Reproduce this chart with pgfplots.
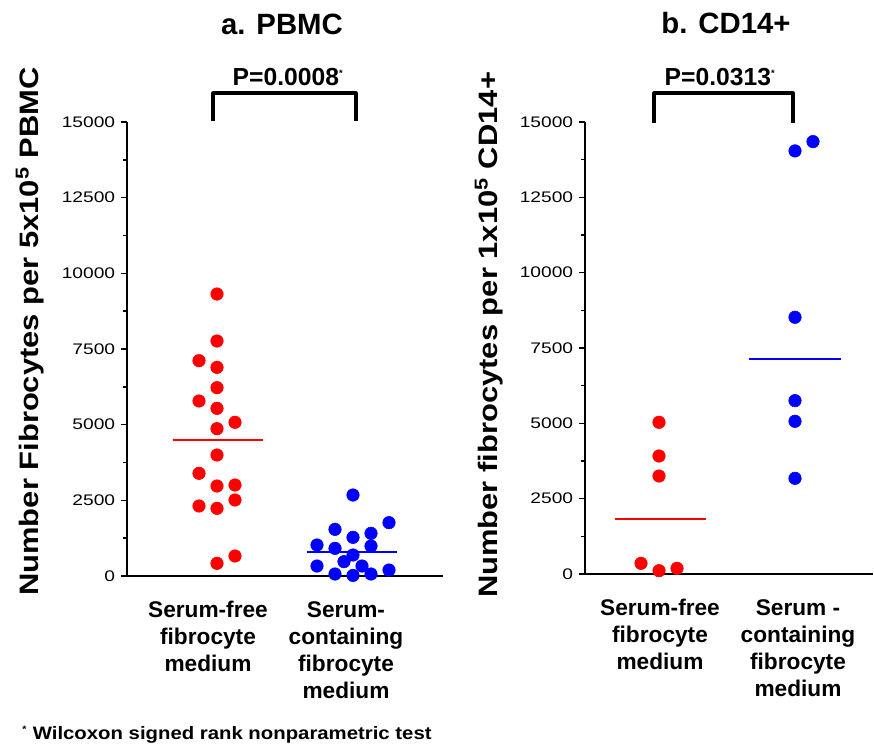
\documentclass[border=0pt]{standalone}
\usepackage{fontspec}
\setmainfont{Liberation Sans}
\usepackage{graphicx}
\usepackage{pgfplots}
\pgfplotsset{compat=1.18}
\def\px{0.75pt}
\pgfplotsset{
  panel/.style={
    scale only axis,
    axis x line=bottom, axis y line=left,
    axis line style={-, line width=1.3pt, black},
    ymin=0, ymax=15000,
    ytick={0,2500,5000,7500,10000,12500,15000},
    minor y tick num=1,
    tick align=outside,
    major tick length=4.5pt, minor tick length=3pt,
    every tick/.style={black, line width=1.1pt},
    major x tick style={draw=none},
    yticklabel style={font=\fontsize{11.5}{13}\selectfont, xscale=1.25},
    /pgf/number format/assume math mode=true,
    /pgf/number format/set thousands separator={},
    scaled y ticks=false,
    xticklabel style={align=center, font=\bfseries\fontsize{17}{20.25}\selectfont, anchor=north, yshift=-11pt},
    clip=false,
  },
  dots/.style={only marks, mark=*, mark size=4.7pt, mark options={draw=#1, fill=#1}},
  medline/.style={#1, line width=1.6pt},
}
\begin{document}
\begin{tikzpicture}
\path[use as bounding box] (0,0) rectangle (655.5pt,-561.75pt);

% ---------- a. PBMC ----------
\begin{axis}[panel,
  at={(95.25pt,-432pt)}, anchor=south west,
  width=237pt, height=340.5pt,
  xmin=0, xmax=316,
  xtick={81,219},
  xticklabels={{Serum-free\\fibrocyte\\medium},{Serum-\\containing\\fibrocyte\\medium}},
  ylabel={\fontsize{20}{24}\selectfont\bfseries\scalebox{1.16}[1]{Number Fibrocytes per 5x10\textsuperscript{5} PBMC}},
  ylabel style={at={(axis description cs:-0.307,0.5385)}, anchor=center},
]
\addplot[dots=red] coordinates {
 (90,9317) (90,7764) (72,7114) (90,6895) (90,6222) (72,5782) (90,5540)
 (108,5078) (90,4867) (90,3998) (72,3393) (90,2974) (108,3007) (108,2511)
 (72,2313) (90,2236) (108,661) (90,419)};
\addplot[medline=red] coordinates {(45.7,4493) (135.7,4493)};
\addplot[dots=blue] coordinates {
 (226,2676) (262,1762) (208,1542) (244,1410) (226,1278) (190,1024) (208,914)
 (244,991) (226,694) (217,474) (190,330) (235,330) (262,198) (208,66)
 (226,20) (244,66)};
\addplot[medline=blue] coordinates {(179.7,804) (270.3,804)};
\end{axis}

% ---------- b. CD14+ ----------
\begin{axis}[panel,
  at={(438.75pt,-430.5pt)}, anchor=south west,
  width=216pt, height=339pt,
  xmin=0, xmax=288,
  xtick={75,213},
  xticklabels={{Serum-free\\fibrocyte\\medium},{Serum -\\containing\\fibrocyte\\medium}},
  ylabel={\fontsize{20}{24}\selectfont\bfseries\scalebox{1.16}[1]{Number fibrocytes per 1x10\textsuperscript{5} CD14+}},
  ylabel style={at={(axis description cs:-0.333,0.529)}, anchor=center},
]
\addplot[dots=red] coordinates {
 (74,5035) (74,3916) (74,3252) (56,354) (74,110) (92,188)};
\addplot[medline=red] coordinates {(30,1825) (121,1825)};
\addplot[dots=blue] coordinates {
 (228,14349) (210,14040) (210,8520) (210,5752) (210,5068) (210,3176)};
\addplot[medline=blue] coordinates {(164,7146) (256,7146)};
\end{axis}

% ---------- titles and brackets ----------
\node[anchor=base, font=\bfseries\fontsize{22}{26}\selectfont] at (282*\px,-35*\px) {a. PBMC};
\node[anchor=base, font=\bfseries\fontsize{22}{26}\selectfont] at (726*\px,-34*\px) {b. CD14+};

\node[anchor=base, font=\bfseries\fontsize{18.5}{22}\selectfont, inner sep=0pt] at (288*\px,-85*\px) {P=0.0008\textsuperscript{\scriptsize *}};
\node[anchor=base, font=\bfseries\fontsize{18.5}{22}\selectfont, inner sep=0pt] at (720*\px,-85*\px) {P=0.0313\textsuperscript{\scriptsize *}};

\draw[line width=2.3pt, line join=round] (213*\px,-121*\px) -- (213*\px,-93*\px) -- (356*\px,-93*\px) -- (356*\px,-121*\px);
\draw[line width=2.3pt, line join=round] (654*\px,-123*\px) -- (654*\px,-93*\px) -- (793*\px,-93*\px) -- (793*\px,-123*\px);

\node[anchor=base west, font=\bfseries\fontsize{13.5}{15}\selectfont, inner sep=0pt, xscale=1.13] at (22*\px,-739*\px) {\textsuperscript{\scriptsize *} Wilcoxon signed rank nonparametric test};
\end{tikzpicture}
\end{document}
